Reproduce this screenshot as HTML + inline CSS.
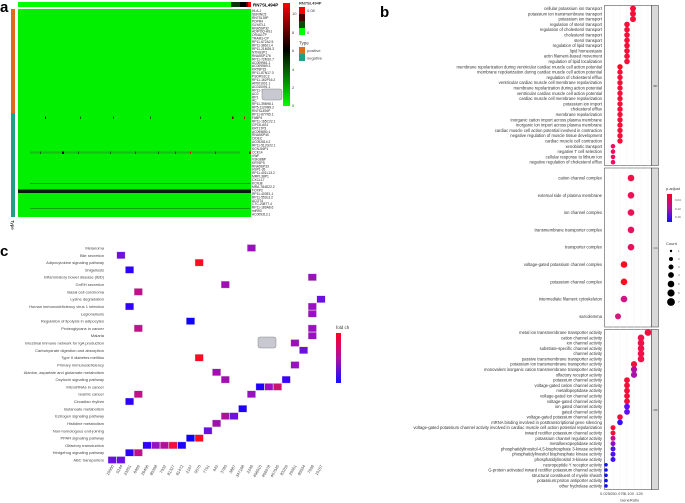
<!DOCTYPE html>
<html><head><meta charset="utf-8"><style>
html,body{margin:0;padding:0;background:#fff;}
svg{display:block;font-family:"Liberation Sans",sans-serif;}
.g{font-size:3.3px;fill:#222;}
.t{font-size:4.2px;fill:#333;}
.c{font-size:4px;fill:#444;}
</style></head><body>
<svg width="685" height="503" viewBox="0 0 685 503" xmlns="http://www.w3.org/2000/svg">
<defs>
<linearGradient id="hm" x1="0" y1="0" x2="0" y2="1"><stop offset="0" stop-color="#ff0000"/><stop offset="0.45" stop-color="#000"/><stop offset="1" stop-color="#00ff00"/></linearGradient>
<linearGradient id="pa" x1="0" y1="0" x2="0" y2="1"><stop offset="0" stop-color="#ff0020"/><stop offset="0.5" stop-color="#b010a0"/><stop offset="1" stop-color="#1010ff"/></linearGradient>
</defs>
<!-- Panel a -->
<text x="0" y="12" font-size="15" font-weight="bold">a</text>
<rect x="18" y="2" width="233" height="5" fill="#00ff00"/>
<rect x="231" y="2" width="9" height="5" fill="#0a3a0a"/>
<rect x="240" y="2" width="6" height="5" fill="#000"/>
<rect x="246" y="2" width="2" height="5" fill="#600"/>
<rect x="248" y="2" width="3" height="5" fill="#ff0000"/>
<text x="253" y="6.5" font-size="4.5" font-weight="bold">RN7SL494P</text>
<rect x="11" y="9" width="4" height="104" fill="#e06a1a"/>
<rect x="11" y="113" width="4" height="104" fill="#1fa085"/>
<text transform="translate(11,220) rotate(90)" font-size="4.5">Type</text>
<rect x="18" y="9" width="233" height="208" fill="#00f000"/>
<g fill="#1a5a1a">
<rect x="45" y="116.5" width="1" height="2.5" fill="#000"/><rect x="113" y="116.5" width="1" height="2.5"/><rect x="232" y="116.5" width="1.5" height="2.5" fill="#700"/><rect x="244" y="116.5" width="1" height="2.5" fill="#c00"/>
<rect x="80" y="116.5" width="1" height="2.5"/><rect x="150" y="116.5" width="1" height="2.5"/><rect x="200" y="116.5" width="1" height="2.5"/>
<rect x="30" y="151.5" width="210" height="2" fill="#2a8a2a" opacity="0.5"/>
<rect x="62" y="151.5" width="2" height="2.5" fill="#000"/><rect x="158" y="151.5" width="1" height="2.5"/><rect x="190" y="151.5" width="1" height="2.5" fill="#f03"/><rect x="249" y="151.5" width="2" height="2.5" fill="#f00"/>
<rect x="40" y="151.5" width="1" height="2.5"/><rect x="78" y="151.5" width="1" height="2.5"/><rect x="110" y="151.5" width="1" height="2.5"/><rect x="135" y="151.5" width="1" height="2.5"/><rect x="175" y="151.5" width="1" height="2.5"/><rect x="215" y="151.5" width="1" height="2.5"/>
<rect x="30" y="183" width="220" height="1" opacity="0.6"/>
<rect x="30" y="208" width="220" height="1" opacity="0.5"/>
</g>
<rect x="18" y="189.5" width="233" height="3.5" fill="#0a1a0a"/>
<g class="g">
<text x="252" y="12">HLA-J</text><text x="252" y="15.5">SERINC5</text><text x="252" y="18.9">RN7SL39P</text><text x="252" y="22.4">PDPR4</text><text x="252" y="25.8">GLYATL1</text><text x="252" y="29.3">RNA5SP32</text><text x="252" y="32.7">ADIPOQ-AS1</text><text x="252" y="36.2">OR4A17P</text><text x="252" y="39.6">TRAM1-CP</text><text x="252" y="43.1">RP11-672A2.5</text><text x="252" y="46.5">RP11-386J1.4</text><text x="252" y="50">RP11-21M26.3</text><text x="252" y="53.4">NTNG2P1</text><text x="252" y="56.9">RNA5SP176</text><text x="252" y="60.3">RP11-72M10.7</text><text x="252" y="63.8">AC009961.1</text><text x="252" y="67.2">AC009969.3</text><text x="252" y="70.7">KRT8P15</text><text x="252" y="74.1">RP11-87N17.3</text><text x="252" y="77.6">PSORS1C2</text><text x="252" y="81">RP11-162P16.2</text><text x="252" y="84.5">AP001001.1</text><text x="252" y="87.9">AC010091.1</text><text x="252" y="91.4">RP11-11</text><text x="252" y="94.8">AC0</text><text x="252" y="98.3">RP1</text><text x="252" y="101.7">AC</text><text x="252" y="105.2">RP11-398H8.1</text><text x="252" y="108.6">RP5-1120M9.2</text><text x="252" y="112.1">RN7SL494P</text><text x="252" y="115.5">RP11-877N5.1</text><text x="252" y="119">FABP4</text><text x="252" y="122.4">RP11-165C22.1</text><text x="252" y="125.9">GPC6-AS1</text><text x="252" y="129.3">KRT17P3</text><text x="252" y="132.8">AC099850.1</text><text x="252" y="136.2">RNA5SP40</text><text x="252" y="139.7">CIDEC</text><text x="252" y="143.1">AC092614.2</text><text x="252" y="146.6">RP11-512G22.1</text><text x="252" y="150">KCNJ16P1</text><text x="252" y="153.5">CCK14</text><text x="252" y="156.9">VWF</text><text x="252" y="160.4">VSIG8BP</text><text x="252" y="163.8">KRT6PS</text><text x="252" y="167.3">RNA5SP33</text><text x="252" y="170.7">HSP1-26</text><text x="252" y="174.2">RP11-401L13.2</text><text x="252" y="177.6">MRPL38P1</text><text x="252" y="181.1">CXCL17</text><text x="252" y="184.5">KCNJ8</text><text x="252" y="188">MRA-784D22.2</text><text x="252" y="191.4">FOXP2</text><text x="252" y="194.9">RP11-403E1.1</text><text x="252" y="198.3">RP11-553L3.2</text><text x="252" y="201.8">ACOT4</text><text x="252" y="205.2">CTC-208T7.4</text><text x="252" y="208.7">RP11-189A8.6</text><text x="252" y="212.1">miR93</text><text x="252" y="215.6">AC009313.1</text>
</g>
<rect x="262" y="89" width="20" height="11" rx="2" fill="#c8c8d0" stroke="#888" stroke-width="0.5"/>
<rect x="283" y="3" width="7" height="103" fill="url(#hm)"/>
<g class="c"><text x="292" y="15">10</text><text x="292" y="34">8</text><text x="292" y="52">6</text><text x="292" y="71">4</text><text x="292" y="89">2</text><text x="292" y="107">0</text></g>
<text x="299" y="4.5" font-size="4" font-weight="bold" fill="#333">RN7SL494P</text>
<rect x="299" y="7" width="6" height="7" fill="#ff0000"/><rect x="299" y="14" width="6" height="7" fill="#4a0000"/><rect x="299" y="21" width="6" height="7" fill="#0a4a0a"/><rect x="299" y="28" width="6" height="7" fill="#00ff00"/>
<text x="307" y="12" class="c">0.08</text><text x="307" y="34" class="c">0</text>
<text x="299" y="44.5" font-size="4.5" fill="#333">Type</text>
<rect x="299" y="47" width="6" height="7" fill="#e06a1a"/><rect x="299" y="54" width="6" height="7" fill="#1fa085"/>
<text x="307" y="52" class="c">positive</text><text x="307" y="59.5" class="c">negative</text>

<!-- Panel c -->
<text x="0" y="256" font-size="15" font-weight="bold">c</text>
<g class="c" text-anchor="end">
<text x="104" y="249.5">Melanoma</text><text x="104" y="256.8">Bile secretion</text><text x="104" y="264.1">Adipocytokine signaling pathway</text><text x="104" y="271.4">Shigellosis</text><text x="104" y="278.7">Inflammatory bowel disease (IBD)</text><text x="104" y="286.1">GnRH secretion</text><text x="104" y="293.4">Basal cell carcinoma</text><text x="104" y="300.7">Lysine degradation</text><text x="104" y="308">Human immunodeficiency virus 1 infection</text><text x="104" y="315.3">Legionellosis</text><text x="104" y="322.6">Regulation of lipolysis in adipocytes</text><text x="104" y="329.9">Proteoglycans in cancer</text><text x="104" y="337.2">Malaria</text><text x="104" y="344.5">Intestinal immune network for IgA production</text><text x="104" y="351.8">Carbohydrate digestion and absorption</text><text x="104" y="359.2">Type II diabetes mellitus</text><text x="104" y="366.5">Primary immunodeficiency</text><text x="104" y="373.8">Alanine, aspartate and glutamate metabolism</text><text x="104" y="381.1">Oxytocin signaling pathway</text><text x="104" y="388.4">MicroRNAs in cancer</text><text x="104" y="395.7">Gastric cancer</text><text x="104" y="403">Circadian rhythm</text><text x="104" y="410.3">Butanoate metabolism</text><text x="104" y="417.6">Estrogen signaling pathway</text><text x="104" y="424.9">Histidine metabolism</text><text x="104" y="432.3">Non-homologous end-joining</text><text x="104" y="439.6">PPAR signaling pathway</text><text x="104" y="446.9">Olfactory transduction</text><text x="104" y="454.2">Hedgehog signaling pathway</text><text x="104" y="461.5">ABC transporters</text>
</g>
<g stroke="#ddd" stroke-width="0.4">
<rect x="247.2" y="244.5" width="8.4" height="7" fill="#9a10c0"/>
<rect x="116.7" y="251.8" width="8.4" height="7" fill="#7010d8"/>
<rect x="195" y="259.1" width="8.4" height="7" fill="#ff0a20"/>
<rect x="125.4" y="266.4" width="8.4" height="7" fill="#3000ff"/>
<rect x="308.1" y="273.7" width="8.4" height="7" fill="#9a10c0"/>
<rect x="221.1" y="281.1" width="8.4" height="7" fill="#a010b0"/>
<rect x="134.1" y="288.4" width="8.4" height="7" fill="#c0108a"/>
<rect x="316.8" y="295.7" width="8.4" height="7" fill="#6a10e0"/>
<rect x="125.4" y="303" width="8.4" height="7" fill="#3000ff"/>
<rect x="308.1" y="303" width="8.4" height="7" fill="#9a10c0"/>
<rect x="308.1" y="310.3" width="8.4" height="7" fill="#9a10c0"/>
<rect x="186.3" y="317.6" width="8.4" height="7" fill="#1000ff"/>
<rect x="134.1" y="324.9" width="8.4" height="7" fill="#c0108a"/>
<rect x="308.1" y="324.9" width="8.4" height="7" fill="#9a10c0"/>
<rect x="308.1" y="332.2" width="8.4" height="7" fill="#9a10c0"/>
<rect x="290.7" y="339.5" width="8.4" height="7" fill="#9a10c0"/>
<rect x="299.4" y="346.8" width="8.4" height="7" fill="#6a10e0"/>
<rect x="195" y="354.2" width="8.4" height="7" fill="#ff0a20"/>
<rect x="290.7" y="361.5" width="8.4" height="7" fill="#9a10c0"/>
<rect x="212.4" y="368.8" width="8.4" height="7" fill="#a010b0"/>
<rect x="221.1" y="376.1" width="8.4" height="7" fill="#a010b0"/>
<rect x="282" y="376.1" width="8.4" height="7" fill="#3a00ff"/>
<rect x="255.9" y="383.4" width="8.4" height="7" fill="#2000ff"/>
<rect x="264.6" y="383.4" width="8.4" height="7" fill="#9a10c0"/>
<rect x="273.3" y="383.4" width="8.4" height="7" fill="#d01070"/>
<rect x="134.1" y="390.7" width="8.4" height="7" fill="#c0108a"/>
<rect x="247.2" y="390.7" width="8.4" height="7" fill="#9a10c0"/>
<rect x="125.4" y="398" width="8.4" height="7" fill="#3000ff"/>
<rect x="238.5" y="405.3" width="8.4" height="7" fill="#2000ff"/>
<rect x="221.1" y="412.6" width="8.4" height="7" fill="#b010a0"/>
<rect x="229.8" y="412.6" width="8.4" height="7" fill="#7010d8"/>
<rect x="212.4" y="419.9" width="8.4" height="7" fill="#a010b0"/>
<rect x="203.7" y="427.3" width="8.4" height="7" fill="#6a10e0"/>
<rect x="186.3" y="434.6" width="8.4" height="7" fill="#1000ff"/>
<rect x="195" y="434.6" width="8.4" height="7" fill="#ff0a20"/>
<rect x="142.8" y="441.9" width="8.4" height="7" fill="#3000ff"/>
<rect x="151.5" y="441.9" width="8.4" height="7" fill="#9a10c0"/>
<rect x="160.2" y="441.9" width="8.4" height="7" fill="#b010a0"/>
<rect x="168.9" y="441.9" width="8.4" height="7" fill="#f01040"/>
<rect x="177.6" y="441.9" width="8.4" height="7" fill="#2000ff"/>
<rect x="125.4" y="449.2" width="8.4" height="7" fill="#3000ff"/>
<rect x="134.1" y="449.2" width="8.4" height="7" fill="#c0108a"/>
<rect x="108" y="456.5" width="8.4" height="7" fill="#6a10e0"/>
<rect x="116.7" y="456.5" width="8.4" height="7" fill="#6a10e0"/>
</g>
<g class="c" text-anchor="end" font-size="3.6">
<text transform="translate(114,466) rotate(-60)">10060</text><text transform="translate(122.7,466) rotate(-60)">5244</text><text transform="translate(131.4,466) rotate(-60)">23251</text><text transform="translate(140.1,466) rotate(-60)">6469</text><text transform="translate(148.8,466) rotate(-60)">26496</text><text transform="translate(157.5,466) rotate(-60)">85398</text><text transform="translate(166.2,466) rotate(-60)">7932</text><text transform="translate(174.9,466) rotate(-60)">81327</text><text transform="translate(183.6,466) rotate(-60)">81472</text><text transform="translate(192.3,466) rotate(-60)">2167</text><text transform="translate(201,466) rotate(-60)">5570</text><text transform="translate(209.7,466) rotate(-60)">7791</text><text transform="translate(218.4,466) rotate(-60)">443</text><text transform="translate(227.1,466) rotate(-60)">3785</text><text transform="translate(235.8,466) rotate(-60)">3887</text><text transform="translate(244.5,466) rotate(-60)">347168</text><text transform="translate(253.2,466) rotate(-60)">2246</text><text transform="translate(261.9,466) rotate(-60)">406915</text><text transform="translate(270.6,466) rotate(-60)">406978</text><text transform="translate(279.3,466) rotate(-60)">407045</text><text transform="translate(288,466) rotate(-60)">83259</text><text transform="translate(296.7,466) rotate(-60)">29951</text><text transform="translate(305.4,466) rotate(-60)">85534</text><text transform="translate(314.1,466) rotate(-60)">7098</text><text transform="translate(322.8,466) rotate(-60)">10157</text>
</g>
<rect x="258" y="337" width="18" height="11" rx="2" fill="#c8c8d0" stroke="#888" stroke-width="0.5"/>
<text x="336" y="329" font-size="4.5" fill="#333">fold ch</text>
<rect x="336" y="333" width="5" height="50" fill="url(#pa)"/>

<!-- Panel b -->
<text x="380" y="17" font-size="15" font-weight="bold">b</text>
<g fill="#fff" stroke="#333" stroke-width="0.5">
<rect x="604.5" y="5.5" width="47" height="160"/><rect x="604.5" y="168" width="47" height="159"/><rect x="604.5" y="329.5" width="47" height="160"/>
</g>
<g fill="#d9d9d9" stroke="#333" stroke-width="0.5">
<rect x="651.5" y="5.5" width="7" height="160"/><rect x="651.5" y="168" width="7" height="159"/><rect x="651.5" y="329.5" width="7" height="160"/>
</g>
<g stroke="#eee" stroke-width="0.4">
<line x1="613" y1="6" x2="613" y2="489"/><line x1="620" y1="6" x2="620" y2="489"/><line x1="627" y1="6" x2="627" y2="489"/><line x1="634" y1="6" x2="634" y2="489"/><line x1="641" y1="6" x2="641" y2="489"/><line x1="648" y1="6" x2="648" y2="489"/>
</g>
<g font-size="3" fill="#444"><text x="653.5" y="87">BP</text><text x="653.5" y="249">CC</text><text x="653.5" y="411">MF</text></g>
<g class="t" text-anchor="end">
<text x="602" y="10">cellular potassium ion transport</text><text x="602" y="15.3">potassium ion transmembrane transport</text><text x="602" y="20.6">potassium ion transport</text><text x="602" y="25.9">regulation of sterol transport</text><text x="602" y="31.2">regulation of cholesterol transport</text><text x="602" y="36.5">cholesterol transport</text><text x="602" y="41.8">sterol transport</text><text x="602" y="47.1">regulation of lipid transport</text><text x="602" y="52.4">lipid homeostasis</text><text x="602" y="57.7">actin filament-based movement</text><text x="602" y="63">regulation of lipid localization</text><text x="602" y="68.3">membrane repolarization during ventricular cardiac muscle cell action potential</text><text x="602" y="73.6">membrane repolarization during cardiac muscle cell action potential</text><text x="602" y="78.9">regulation of cholesterol efflux</text><text x="602" y="84.2">ventricular cardiac muscle cell membrane repolarization</text><text x="602" y="89.5">membrane repolarization during action potential</text><text x="602" y="94.8">ventricular cardiac muscle cell action potential</text><text x="602" y="100.1">cardiac muscle cell membrane repolarization</text><text x="602" y="105.4">potassium ion import</text><text x="602" y="110.7">cholesterol efflux</text><text x="602" y="116">membrane repolarization</text><text x="602" y="121.3">inorganic cation import across plasma membrane</text><text x="602" y="126.6">inorganic ion import across plasma membrane</text><text x="602" y="131.9">cardiac muscle cell action potential involved in contraction</text><text x="602" y="137.2">negative regulation of muscle tissue development</text><text x="602" y="142.5">cardiac muscle cell contraction</text><text x="602" y="147.8">xenobiotic transport</text><text x="602" y="153.1">negative T cell selection</text><text x="602" y="158.4">cellular response to lithium ion</text><text x="602" y="163.7">negative regulation of cholesterol efflux</text>
<text x="602" y="179.5">cation channel complex</text><text x="602" y="196.8">external side of plasma membrane</text><text x="602" y="214.1">ion channel complex</text><text x="602" y="231.4">transmembrane transporter complex</text><text x="602" y="248.7">transporter complex</text><text x="602" y="266">voltage-gated potassium channel complex</text><text x="602" y="283.3">potassium channel complex</text><text x="602" y="300.6">intermediate filament cytoskeleton</text><text x="602" y="317.9">sarcolemma</text>
<text x="602" y="334">metal ion transmembrane transporter activity</text><text x="602" y="339.3">cation channel activity</text><text x="602" y="344.6">ion channel activity</text><text x="602" y="349.9">substrate-specific channel activity</text><text x="602" y="355.2">channel activity</text><text x="602" y="360.5">passive transmembrane transporter activity</text><text x="602" y="365.7">potassium ion transmembrane transporter activity</text><text x="602" y="371">monovalent inorganic cation transmembrane transporter activity</text><text x="602" y="376.3">olfactory receptor activity</text><text x="602" y="381.6">potassium channel activity</text><text x="602" y="386.9">voltage-gated cation channel activity</text><text x="602" y="392.2">metallopeptidase activity</text><text x="602" y="397.5">voltage-gated ion channel activity</text><text x="602" y="402.8">voltage-gated channel activity</text><text x="602" y="408.1">ion gated channel activity</text><text x="602" y="413.4">gated channel activity</text><text x="602" y="418.6">voltage-gated potassium channel activity</text><text x="602" y="423.9">mRNA binding involved in posttranscriptional gene silencing</text><text x="602" y="429.2">voltage-gated potassium channel activity involved in cardiac muscle cell action potential repolarization</text><text x="602" y="434.5">inward rectifier potassium channel activity</text><text x="602" y="439.8">potassium channel regulator activity</text><text x="602" y="445.1">metalloexopeptidase activity</text><text x="602" y="450.4">phosphatidylinositol-4,5-bisphosphate 3-kinase activity</text><text x="602" y="455.7">phosphatidylinositol bisphosphate kinase activity</text><text x="602" y="461">phosphatidylinositol 3-kinase activity</text><text x="602" y="466.3">neuropeptide Y receptor activity</text><text x="602" y="471.5">G-protein activated inward rectifier potassium channel activity</text><text x="602" y="476.8">structural constituent of myelin sheath</text><text x="602" y="482.1">potassium:proton antiporter activity</text><text x="602" y="487.4">other hydrolase activity</text>
</g>
<!-- BP dots -->
<g fill="#f5103a">
<circle cx="633" cy="8.5" r="3"/><circle cx="633" cy="13.8" r="3"/><circle cx="633" cy="19.1" r="3"/>
<circle cx="627" cy="24.4" r="2.8"/><circle cx="627" cy="29.7" r="2.8"/><circle cx="627" cy="35" r="2.8"/><circle cx="627" cy="40.3" r="2.8"/><circle cx="627" cy="45.6" r="2.8"/><circle cx="627" cy="50.9" r="2.8"/><circle cx="627" cy="56.2" r="2.8"/><circle cx="627" cy="61.5" r="2.8"/>
<circle cx="620" cy="66.8" r="2.7" fill="#ff0a20"/><circle cx="620" cy="72.1" r="2.7"/><circle cx="620" cy="77.4" r="2.7"/><circle cx="620" cy="82.7" r="2.7"/><circle cx="620" cy="88" r="2.7"/><circle cx="620" cy="93.3" r="2.7"/><circle cx="620" cy="98.6" r="2.7"/><circle cx="620" cy="103.9" r="2.7"/><circle cx="620" cy="109.2" r="2.7"/><circle cx="620" cy="114.5" r="2.7"/><circle cx="620" cy="119.8" r="2.7"/><circle cx="620" cy="125.1" r="2.7"/><circle cx="620" cy="130.4" r="2.7"/><circle cx="620" cy="135.7" r="2.7"/><circle cx="620" cy="141" r="2.7"/>
<circle cx="613" cy="146.3" r="2.3" fill="#e81060"/><circle cx="613" cy="151.6" r="2.3" fill="#e81060"/><circle cx="613" cy="156.9" r="2.3" fill="#e81060"/><circle cx="613" cy="162.2" r="2.3" fill="#e81060"/>
</g>
<!-- CC dots -->
<g>
<circle cx="631" cy="178" r="3.3" fill="#f0104a"/><circle cx="631" cy="195.3" r="3.3" fill="#ec1055"/><circle cx="631" cy="212.6" r="3.3" fill="#ec1055"/><circle cx="631" cy="229.9" r="3.3" fill="#e8105e"/><circle cx="631" cy="247.2" r="3.3" fill="#e8105e"/>
<circle cx="624" cy="264.5" r="3.3" fill="#ff0a20"/><circle cx="624" cy="281.8" r="3.3" fill="#ff0a20"/><circle cx="624" cy="299.1" r="3.3" fill="#d01585"/><circle cx="618" cy="316.4" r="3" fill="#d8157a"/>
</g>
<!-- MF dots -->
<g>
<circle cx="648" cy="332.5" r="3.4" fill="#f01040"/>
<circle cx="641" cy="337.8" r="3.3" fill="#f0104a"/><circle cx="641" cy="343.1" r="3.3" fill="#f0104a"/><circle cx="641" cy="348.4" r="3.3" fill="#f0104a"/><circle cx="641" cy="353.7" r="3.3" fill="#f0104a"/><circle cx="641" cy="359" r="3.3" fill="#f0104a"/>
<circle cx="634" cy="364.2" r="3.1" fill="#f0103a"/><circle cx="634" cy="369.5" r="3.1" fill="#b010a8"/><circle cx="634" cy="374.8" r="3.1" fill="#a810b0"/>
<circle cx="627" cy="380.1" r="2.9" fill="#f0103a"/><circle cx="627" cy="385.4" r="2.9" fill="#f0103a"/><circle cx="627" cy="390.7" r="2.9" fill="#f0103a"/><circle cx="627" cy="396" r="2.9" fill="#f0103a"/><circle cx="627" cy="401.3" r="2.9" fill="#f0103a"/><circle cx="627" cy="406.6" r="2.9" fill="#6010f0"/><circle cx="627" cy="411.9" r="2.9" fill="#6010f0"/>
<circle cx="620" cy="417.1" r="2.8" fill="#f0103a"/><circle cx="620" cy="422.4" r="2.8" fill="#3010ff"/>
<circle cx="613" cy="427.7" r="2.5" fill="#f0103a"/><circle cx="613" cy="433" r="2.5" fill="#f0103a"/><circle cx="613" cy="438.3" r="2.5" fill="#c01090"/><circle cx="613" cy="443.6" r="2.5" fill="#9010c0"/><circle cx="613" cy="448.9" r="2.5" fill="#5010f0"/><circle cx="613" cy="454.2" r="2.5" fill="#5010f0"/><circle cx="613" cy="459.5" r="2.5" fill="#4010f8"/>
<circle cx="606" cy="464.8" r="1.8" fill="#1010ff"/><circle cx="606" cy="470" r="1.8" fill="#1010ff"/><circle cx="606" cy="475.3" r="1.8" fill="#1010ff"/><circle cx="606" cy="480.6" r="1.8" fill="#1010ff"/><circle cx="606" cy="485.9" r="1.8" fill="#1010ff"/>
</g>
<g class="c" font-size="4.2"><text x="600" y="495">0.025</text><text x="609" y="495">.050</text><text x="617" y="495">.075</text><text x="624" y="495">0.100</text><text x="635" y="495">.125</text>
<text x="620" y="501.5">GeneRatio</text></g>
<text x="666" y="190" font-size="4" fill="#333">p.adjust</text>
<rect x="667" y="194" width="5" height="28" fill="url(#pa)"/>
<g font-size="3" fill="#555"><text x="675" y="201">0.04</text><text x="675" y="210">0.10</text><text x="675" y="218">0.16</text></g>
<text x="666" y="245" font-size="4" fill="#333">Count</text>
<g fill="#000"><circle cx="671" cy="251" r="1.2"/><circle cx="671" cy="259" r="2"/><circle cx="671" cy="267" r="2.5"/><circle cx="671" cy="275" r="2.9"/><circle cx="671" cy="284" r="3.3"/><circle cx="671" cy="293" r="3.6"/><circle cx="671" cy="302" r="3.9"/></g>
<g font-size="3" fill="#555"><text x="678" y="252">1</text><text x="678" y="260">2</text><text x="678" y="268">3</text><text x="678" y="276">4</text><text x="678" y="285">5</text><text x="678" y="294">6</text><text x="678" y="303">7</text></g>
</svg>
</body></html>
